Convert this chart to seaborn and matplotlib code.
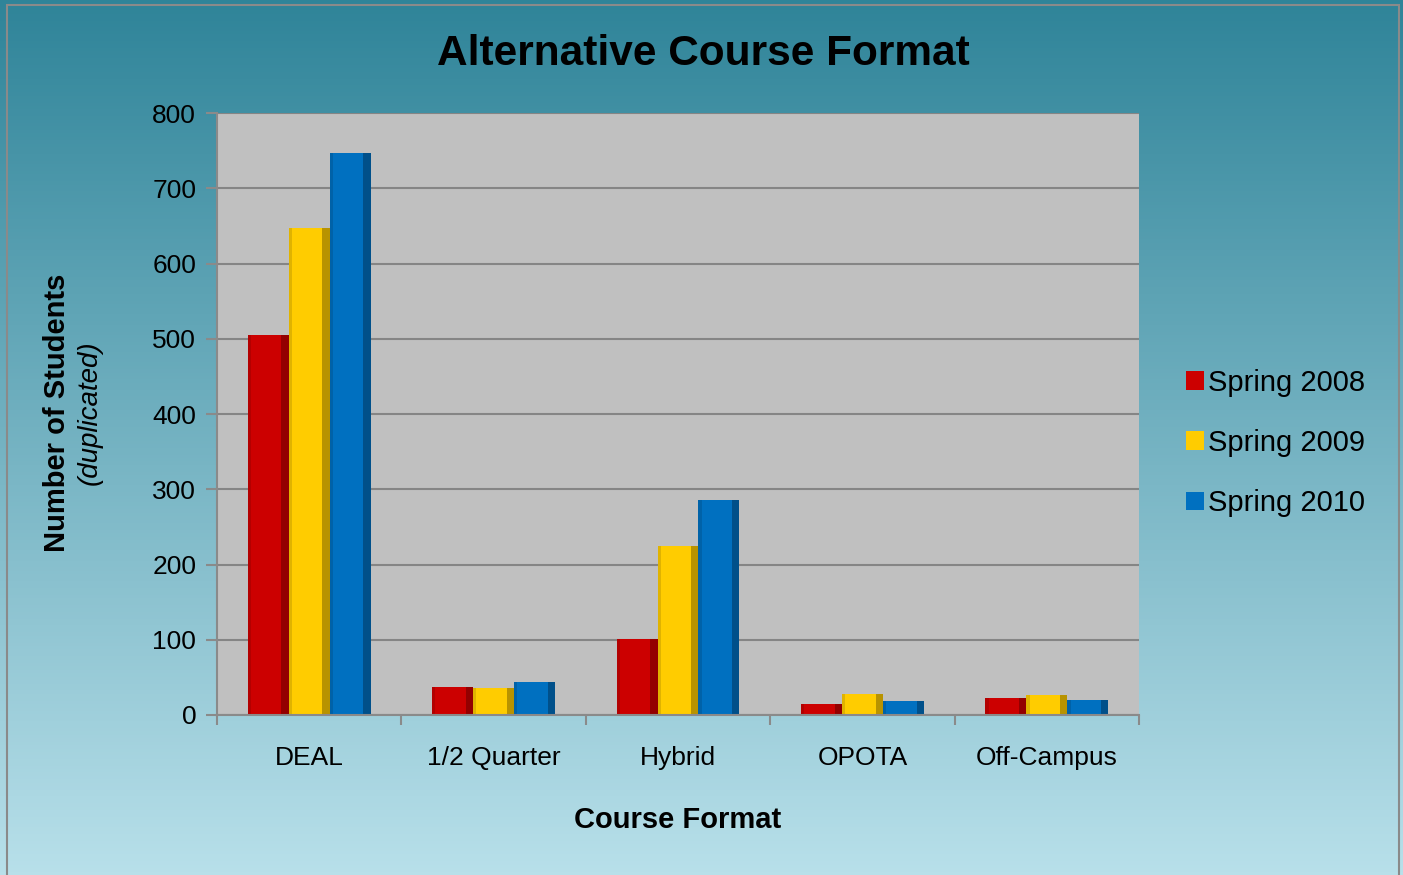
import numpy as np
import pandas as pd
import matplotlib
matplotlib.use("Agg")
import matplotlib.pyplot as plt
import seaborn as sns
from matplotlib.patches import Patch, Rectangle

categories = ["DEAL", "1/2 Quarter", "Hybrid", "OPOTA", "Off-Campus"]
series = ["Spring 2008", "Spring 2009", "Spring 2010"]
spring_2008 = [505, 37, 101, 14, 23]
spring_2009 = [647, 36, 225, 28, 26]
spring_2010 = [747, 44, 286, 19, 20]
colors = ["#cc0000", "#ffcc00", "#0070c0"]

df = pd.DataFrame({
    "Course Format": categories * 3,
    "Series": [s for s in series for _ in categories],
    "Students": spring_2008 + spring_2009 + spring_2010,
})

sns.set_theme(style="white")
plt.rcParams["font.family"] = ["Liberation Sans", "DejaVu Sans"]
plt.rcParams["text.color"] = "black"

fig = plt.figure(figsize=(14.03, 8.75), dpi=100)

# gradient background
bg = fig.add_axes([0, 0, 1, 1], zorder=-10)
top = np.array([0x2f, 0x84, 0x99]) / 255
bot = np.array([0xb8, 0xe0, 0xea]) / 255
t = np.linspace(0, 1, 256)[:, None]
grad = (top[None, :] * (1 - t) + bot[None, :] * t)[:, None, :]
bg.imshow(grad, aspect="auto", extent=[0, 1, 0, 1])
bg.set_xlim(0, 1); bg.set_ylim(0, 1)
bg.axis("off")
bg.add_patch(Rectangle((0.005, -0.01), 0.992, 1.004, fill=False, edgecolor="#8a8a8a", lw=1.5,
                       transform=bg.transAxes))

W, H = 1403, 875
ax = fig.add_axes([217 / W, 1 - 715 / H, (1139 - 217) / W, (715 - 113) / H])
ax.set_facecolor("#c0c0c0")

sns.barplot(data=df, x="Course Format", y="Students", hue="Series",
            palette=colors, width=0.667, ax=ax, legend=False, saturation=1,
            edgecolor="none", linewidth=0)

# subtle 3D-like shading on bars
for p in list(ax.patches):
    x, y0 = p.get_x(), p.get_y()
    w, h = p.get_width(), p.get_height()
    ax.add_patch(Rectangle((x + w * 0.82, y0), w * 0.18, h, facecolor="black", alpha=0.28,
                           edgecolor="none", zorder=p.get_zorder() + 0.1))
    ax.add_patch(Rectangle((x, y0), w * 0.08, h, facecolor="black", alpha=0.12,
                           edgecolor="none", zorder=p.get_zorder() + 0.1))

ax.set_ylim(0, 800)
ax.set_xlim(-0.5, 4.5)
ax.set_yticks(range(0, 801, 100))
ax.yaxis.grid(True, color="#858585", lw=1.5)
ax.set_axisbelow(True)
for s in ["top", "right"]:
    ax.spines[s].set_visible(False)
for s in ["left", "bottom"]:
    ax.spines[s].set_color("#8a8a8a")
    ax.spines[s].set_linewidth(1.5)

ax.set_xticks(np.arange(5))
ax.set_xticklabels(categories, fontsize=19)
ax.set_xticks(np.arange(-0.5, 5, 1), minor=True)
ax.tick_params(axis="x", which="major", length=0, pad=22)
ax.tick_params(axis="x", which="minor", length=7, color="#8a8a8a", width=1.5, direction="out", bottom=True)
ax.tick_params(axis="y", length=8, color="#8a8a8a", width=1.5, direction="out", left=True,
               labelsize=19, pad=7)
for lab in ax.get_yticklabels() + ax.get_xticklabels():
    lab.set_color("black")

ax.set_xlabel("Course Format", fontsize=21, fontweight="bold", labelpad=26, color="black")
ax.set_ylabel("")

fig.text(57 / W, 1 - 413 / H, "Number of Students", rotation=90, fontsize=21, fontweight="bold",
         ha="center", va="center")
fig.text(90 / W, 1 - 413 / H, "(duplicated)", rotation=90, fontsize=20, fontstyle="italic",
         ha="center", va="center")

fig.text(703 / W, 1 - 54 / H, "Alternative Course Format", fontsize=30.5, fontweight="bold",
         ha="center", va="center")

handles = [Patch(facecolor=c, edgecolor="none", label=s) for c, s in zip(colors, series)]
leg = fig.legend(handles=handles, loc="center left", bbox_to_anchor=(1160 / W, 1 - 443 / H),
                 frameon=False, fontsize=21, handlelength=0.6, handleheight=0.6,
                 handletextpad=0.15, labelspacing=1.1)
for txt in leg.get_texts():
    txt.set_color("black")

fig.savefig("out.png", dpi=100)
